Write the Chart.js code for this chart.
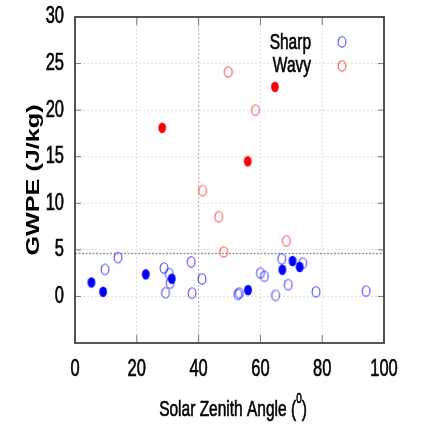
<!DOCTYPE html>
<html>
<head>
<meta charset="utf-8">
<script src="https://cdn.jsdelivr.net/npm/chart.js@4/dist/chart.umd.min.js"></script>
<style>
  html, body { margin: 0; padding: 0; background: #fff; }
  #wrap { width: 422px; height: 425px; }
</style>
</head>
<body>
<div id="wrap"><canvas id="gwpe" width="422" height="425"></canvas></div>
<script>
// values
const sharpOpenX = [9.7, 13.9, 28.8, 30.5, 30.8, 29.3, 37.6, 37.9, 41.1, 52.7, 53.2, 60.0, 61.3, 64.9, 66.9, 69.0, 73.7, 78.0, 94.2];
const sharpOpenY = [2.9, 4.17, 3.05, 2.44, 1.43, 0.39, 3.7, 0.36, 1.87, 0.22, 0.36, 2.51, 2.16, 0.11, 4.02, 1.26, 3.56, 0.5, 0.57];
const sharpFilledX = [5.3, 9.1, 22.9, 31.3, 56.0, 67.1, 70.4, 72.7];
const sharpFilledY = [1.5, 0.5, 2.37, 1.9, 0.68, 2.87, 3.8, 3.16];
const wavyOpenX = [49.6, 58.4, 41.3, 46.5, 48.1, 68.4];
const wavyOpenY = [24.1, 20.0, 11.35, 8.55, 4.77, 5.96];
const wavyFilledX = [28.2, 64.7, 55.9];
const wavyFilledY = [18.1, 22.5, 14.5];

const xTicks = [0, 20, 40, 60, 80, 100];
const yTicks = [0, 5, 10, 15, 20, 25, 30];
const thresholdY = 4.6;
const refX = 40;

const FONT = '"Liberation Sans", Arial, sans-serif';
const SY = 1.4; // the original is stretched vertically

const toPoints = (xs, ys) => xs.map((x, i) => ({ x: x, y: ys[i] }));

// ellipse markers (the source image is taller than wide)
const makeMarker = (color, filled) => {
    const c = document.createElement('canvas');
    c.width = 12; c.height = 14;
    const g = c.getContext('2d');
    g.beginPath();
    if (filled) {
        g.ellipse(6, 7, 3.9, 5.3, 0, 0, Math.PI * 2);
        g.fillStyle = color;
        g.fill();
    } else {
        g.ellipse(6, 7, 3.9, 5.2, 0, 0, Math.PI * 2);
        g.strokeStyle = color;
        g.lineWidth = 1.1;
        g.stroke();
    }
    return c;
};

const blueOpen = makeMarker('rgba(40,40,255,0.85)', false);
const redOpen = makeMarker('rgba(255,50,50,0.85)', false);
const blueFull = makeMarker('#0000ff', true);
const redFull = makeMarker('#ff0000', true);

// text a little heavier, like the blurred original
const heavyText = (ctx, text, x, y) => {
    ctx.fillText(text, x, y);
    ctx.strokeStyle = '#000';
    ctx.lineWidth = 0.45;
    ctx.strokeText(text, x, y);
};

const stretchText = (ctx, text, x, y, font, align) => {
    ctx.save();
    ctx.translate(x, y);
    ctx.scale(1, SY);
    ctx.font = font;
    ctx.textAlign = align;
    ctx.textBaseline = 'middle';
    ctx.fillStyle = '#000';
    heavyText(ctx, text, 0, 0);
    ctx.restore();
};

const decor = {
    id: 'decor',
    beforeDatasetsDraw(chart) {
        const ctx = chart.ctx;
        const a = chart.chartArea;
        const xs = chart.scales.x, ys = chart.scales.y;
        ctx.save();
        // threshold line
        ctx.strokeStyle = '#999';
        ctx.lineWidth = 1.5;
        ctx.setLineDash([2, 1.5]);
        const ty = ys.getPixelForValue(thresholdY);
        ctx.beginPath();
        ctx.moveTo(a.left, ty); ctx.lineTo(a.right, ty);
        ctx.stroke();
        // darker vertical at 40
        ctx.strokeStyle = '#aaa';
        ctx.lineWidth = 1;
        ctx.setLineDash([2, 2]);
        const rx = xs.getPixelForValue(refX);
        ctx.beginPath();
        ctx.moveTo(rx, a.top); ctx.lineTo(rx, a.bottom);
        ctx.stroke();
        ctx.restore();
    },
    afterDraw(chart) {
        const ctx = chart.ctx;
        const a = chart.chartArea;
        const xs = chart.scales.x, ys = chart.scales.y;
        ctx.save();
        // inward ticks
        ctx.strokeStyle = '#777';
        ctx.lineWidth = 1;
        ctx.beginPath();
        yTicks.forEach(v => {
            const p = ys.getPixelForValue(v);
            ctx.moveTo(a.left, p); ctx.lineTo(a.left + 6, p);
            ctx.moveTo(a.right, p); ctx.lineTo(a.right - 6, p);
        });
        xTicks.forEach(v => {
            const p = xs.getPixelForValue(v);
            ctx.moveTo(p, a.bottom); ctx.lineTo(p, a.bottom - 8);
            ctx.moveTo(p, a.top); ctx.lineTo(p, a.top + 8);
        });
        ctx.stroke();
        // frame
        ctx.strokeStyle = '#444';
        ctx.lineWidth = 1.8;
        ctx.strokeRect(a.left, a.top, a.right - a.left, a.bottom - a.top);

        // tick labels
        yTicks.forEach(v => {
            stretchText(ctx, String(v), a.left - 11, ys.getPixelForValue(v), '16.5px ' + FONT, 'right');
        });
        xTicks.forEach(v => {
            stretchText(ctx, String(v), xs.getPixelForValue(v), 370, '16.5px ' + FONT, 'center');
        });

        // y title
        ctx.save();
        ctx.translate(34, (a.top + a.bottom) / 2);
        ctx.rotate(-Math.PI / 2);
        ctx.scale(SY, 1);
        ctx.font = 'bold 18px ' + FONT;
        ctx.textAlign = 'center';
        ctx.textBaseline = 'middle';
        ctx.fillStyle = '#000';
        ctx.fillText('GWPE (J/kg)', 0, 0);
        ctx.restore();

        // x title with superscript
        ctx.save();
        ctx.translate(0, 416);
        ctx.scale(1, SY);
        ctx.fillStyle = '#000';
        ctx.textBaseline = 'alphabetic';
        ctx.textAlign = 'left';
        const main = 'Solar Zenith Angle (';
        ctx.font = '15.5px ' + FONT;
        const w1 = ctx.measureText(main).width;
        const w3 = ctx.measureText(')').width;
        ctx.font = '10px ' + FONT;
        const w2 = ctx.measureText('0').width;
        let sx = 233 - (w1 + w2 + w3) / 2;
        ctx.font = '15.5px ' + FONT;
        heavyText(ctx, main, sx, 0);
        ctx.font = '10px ' + FONT;
        heavyText(ctx, '0', sx + w1, -9.5);
        ctx.font = '15.5px ' + FONT;
        heavyText(ctx, ')', sx + w1 + w2, 0);
        ctx.restore();

        // legend
        stretchText(ctx, 'Sharp', 311, 43, '15.5px ' + FONT, 'right');
        stretchText(ctx, 'Wavy', 311, 66.5, '15.5px ' + FONT, 'right');
        ctx.drawImage(blueOpen, 342 - 6, 42 - 7);
        ctx.drawImage(redOpen, 342 - 6, 66 - 7);
        ctx.restore();
    }
};

new Chart(document.getElementById('gwpe'), {
    type: 'scatter',
    data: {
        datasets: [{
            label: 'Sharp',
            data: toPoints(sharpOpenX, sharpOpenY),
            pointStyle: blueOpen,
            order: 2
        }, {
            label: 'Sharp (filled)',
            data: toPoints(sharpFilledX, sharpFilledY),
            pointStyle: blueFull,
            order: 1
        }, {
            label: 'Wavy',
            data: toPoints(wavyOpenX, wavyOpenY),
            pointStyle: redOpen,
            order: 2
        }, {
            label: 'Wavy (filled)',
            data: toPoints(wavyFilledX, wavyFilledY),
            pointStyle: redFull,
            order: 1
        }]
    },
    options: {
        responsive: false,
        animation: false,
        layout: { padding: { left: 0, right: 38, top: 17, bottom: 0 } },
        plugins: {
            legend: { display: false },
            tooltip: { enabled: false }
        },
        scales: {
            x: {
                type: 'linear',
                min: 0,
                max: 100,
                ticks: { display: false, stepSize: 20 },
                grid: { color: '#e0e0e0', drawTicks: false, lineWidth: 1 },
                border: { display: false, dash: [2, 2] },
                afterFit: s => { s.height = 82; }
            },
            y: {
                type: 'linear',
                min: -5,
                max: 30,
                ticks: { display: false, stepSize: 5 },
                grid: {
                    color: c => (c.tick && c.tick.value === -5) ? 'rgba(0,0,0,0)' : '#e0e0e0',
                    drawTicks: false,
                    lineWidth: 1
                },
                border: { display: false, dash: [2, 2] },
                afterFit: s => { s.width = 75; }
            }
        }
    },
    plugins: [decor]
});
</script>
</body>
</html>
